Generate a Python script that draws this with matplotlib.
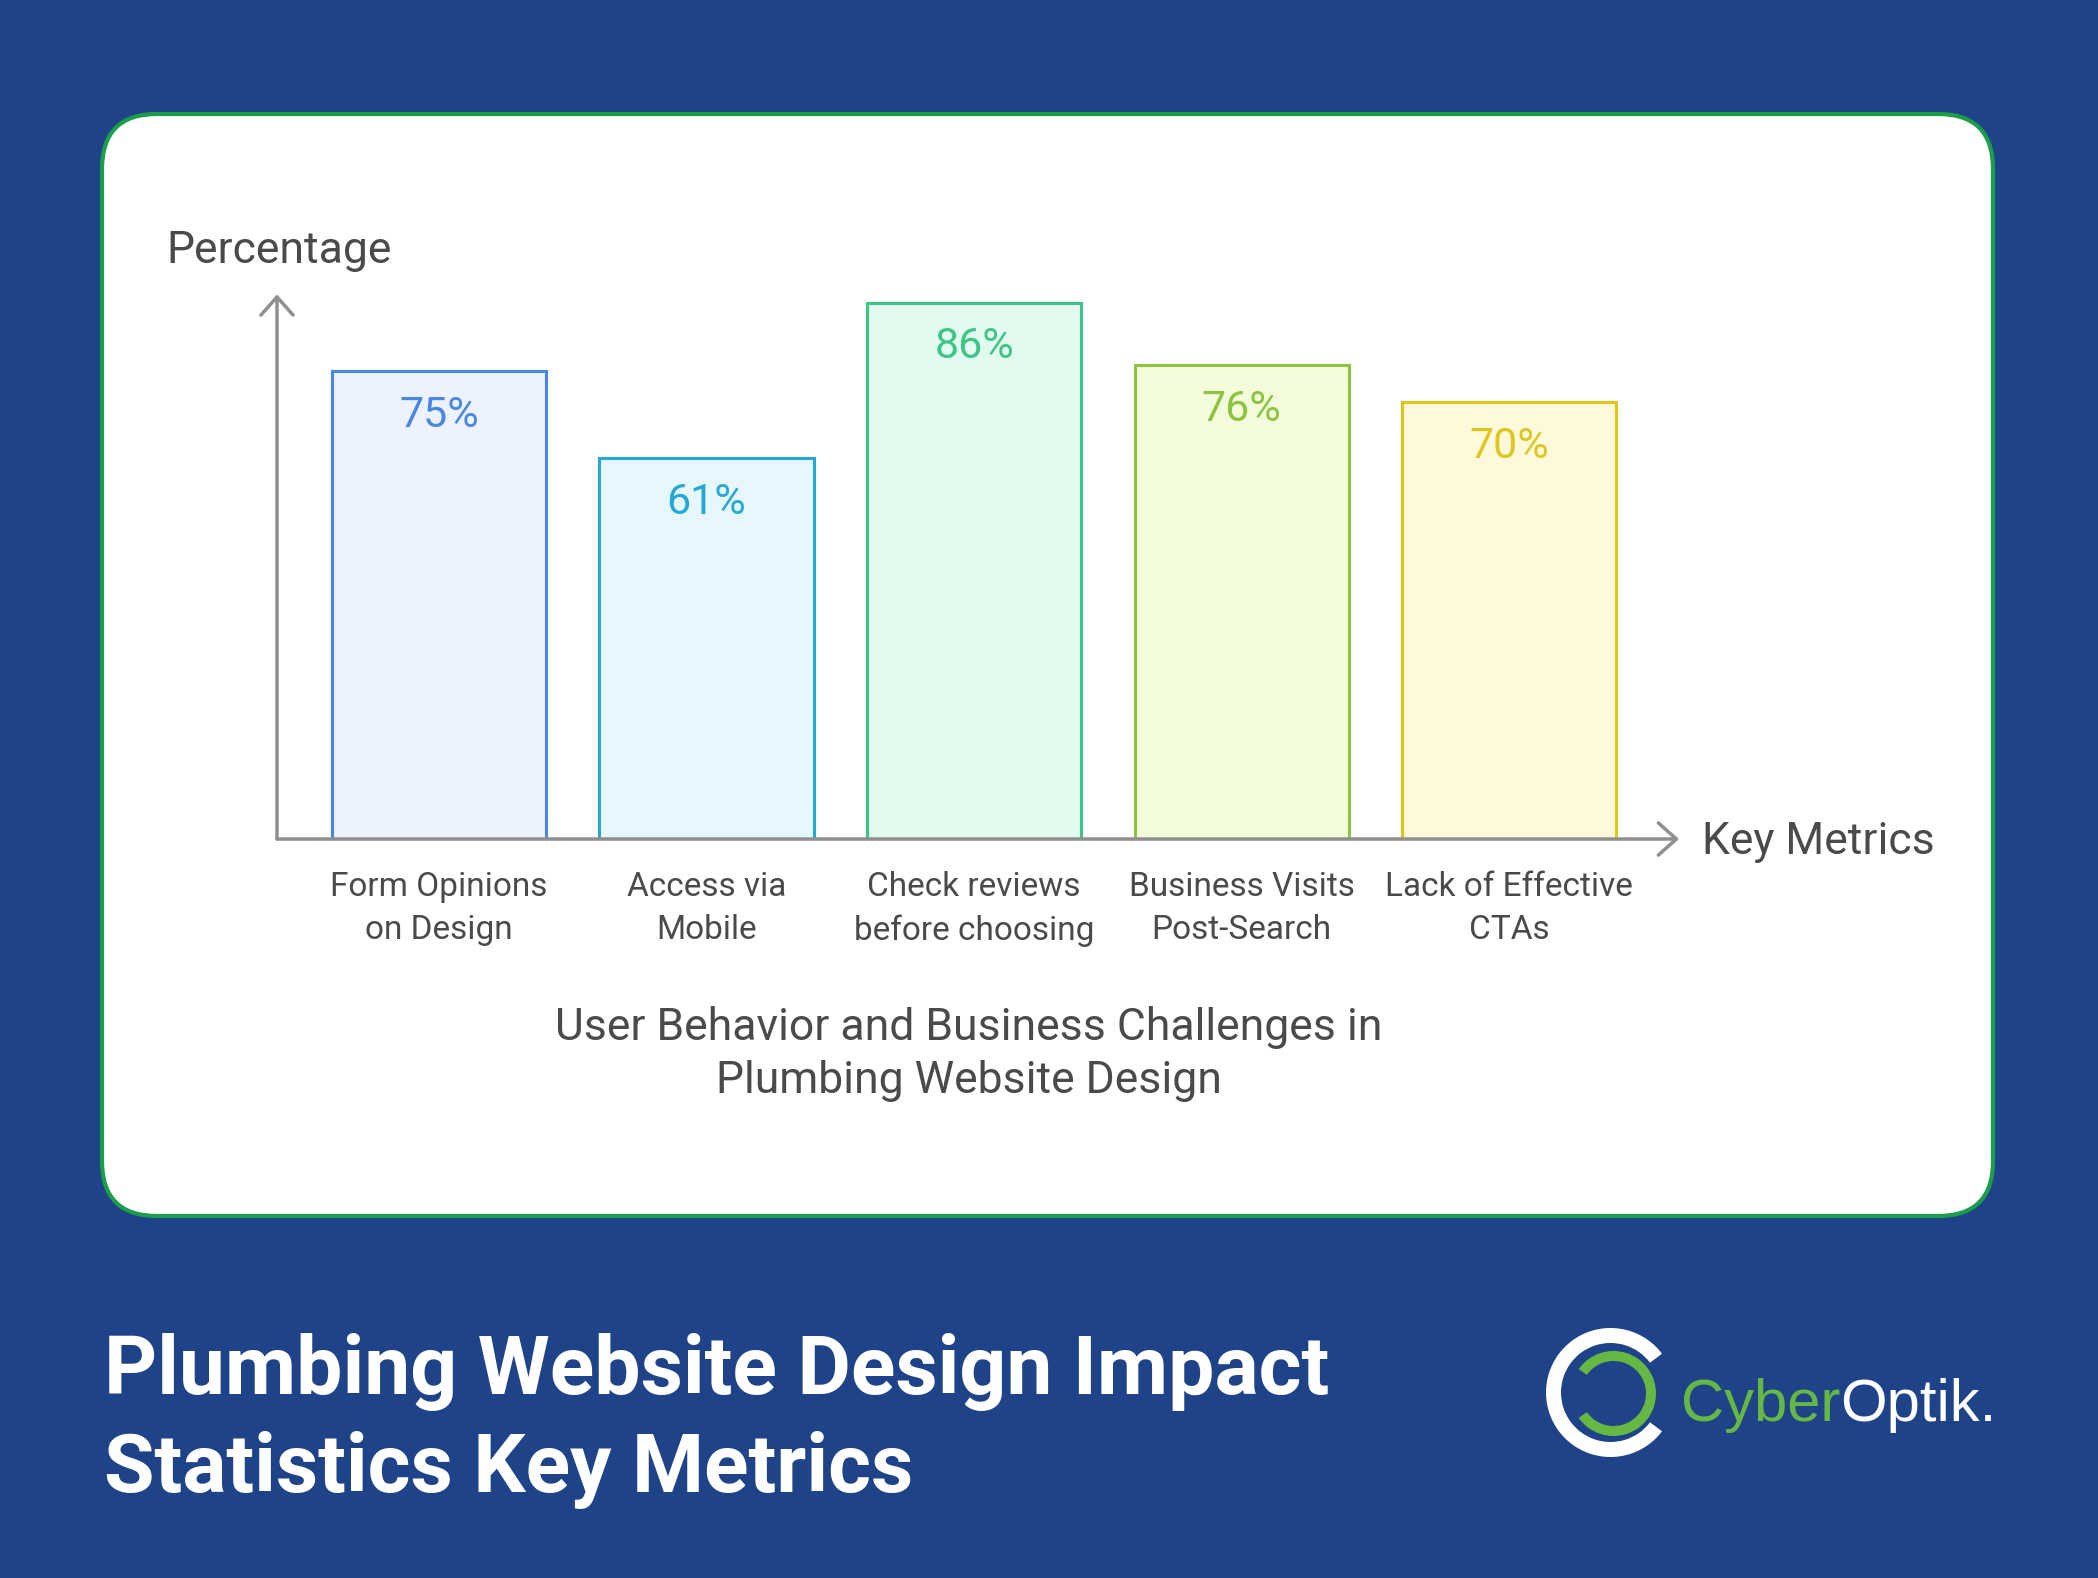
import matplotlib
matplotlib.use('Agg')
import matplotlib.pyplot as plt
from matplotlib.patches import FancyBboxPatch, Wedge
from matplotlib import font_manager
import numpy as np

# ---- data ----
categories = ["Form Opinions\non Design", "Access via\nMobile", "Check reviews\nbefore choosing",
              "Business Visits\nPost-Search", "Lack of Effective\nCTAs"]
values = [75, 61, 86, 76, 70]
value_labels = ["75%", "61%", "86%", "76%", "70%"]
edge_colors = ['#4A86E4', '#25A8D6', '#3DC587', '#8CC43F', '#DEC61F']
fill_colors = ['#EDF3FE', '#E6F8FE', '#E3FBEE', '#F3FDDC', '#FEF9DA']
y_label = "Percentage"
x_label = "Key Metrics"
subtitle_lines = ["User Behavior and Business Challenges in", "Plumbing Website Design"]
title_lines = ["Plumbing Website Design Impact", "Statistics Key Metrics"]

plt.rcParams['font.family'] = ['Roboto', 'DejaVu Sans']
TXT = '#4a4a4a'
AX = '#8F8F8F'

# logo font: narrow sans if available
logo_family, logo_size = 'Liberation Sans', 43
try:
    font_manager.findfont(font_manager.FontProperties(family='Liberation Sans Narrow'),
                          fallback_to_default=False)
    logo_family, logo_size = 'Liberation Sans Narrow', 50
except Exception:
    pass

W, H = 2098, 1578
fig = plt.figure(figsize=(W / 100, H / 100), dpi=100)
fig.patch.set_facecolor('#1F4388')

# background / decoration layer in pixel coordinates
bg = fig.add_axes([0, 0, 1, 1])
bg.set_xlim(0, W)
bg.set_ylim(H, 0)
bg.axis('off')

card = FancyBboxPatch((102, 114), 1891, 1102, boxstyle="round,pad=0,rounding_size=55",
                      facecolor='white', edgecolor='#1A9E4A', linewidth=3)
bg.add_patch(card)

# chart axes
x = np.arange(len(values))
xmin, xmax = -0.605, 4.634
ymax = 87.3
left_px, right_px = 277, 1679
base_px, top_px = 839, 294.4
ax = fig.add_axes([left_px / W, 1 - base_px / H, (right_px - left_px) / W, (base_px - top_px) / H])
ax.set_xlim(xmin, xmax)
ax.set_ylim(0, ymax)
ax.patch.set_alpha(0)
for s in ax.spines.values():
    s.set_visible(False)
ax.set_yticks([])
ax.set_xticks(x, categories, fontsize=24, color=TXT, linespacing=1.45)
ax.tick_params(axis='x', length=0, pad=23)

ax.bar(x, values, width=0.8, color=fill_colors, edgecolor=edge_colors, linewidth=2.2, zorder=2)
for xi, v, lab, c in zip(x, values, value_labels, edge_colors):
    ax.annotate(lab, (xi, v), xytext=(0, -40.3), textcoords='offset points',
                ha='center', va='baseline', fontsize=31, color=c, zorder=4)

arrowprops = dict(arrowstyle='->,head_length=0.65,head_width=0.58', lw=2.5, color=AX,
                  shrinkA=0, shrinkB=0, mutation_scale=20)
ax.annotate('', xy=(0, 1), xytext=(0, 0), xycoords='axes fraction', arrowprops=arrowprops, zorder=5)
ax.annotate('', xy=(1, 0), xytext=(0, 0), xycoords='axes fraction', arrowprops=arrowprops, zorder=5)

# axis titles
bg.text(166, 263, y_label, fontsize=32, color=TXT, va='baseline', ha='left')
bg.text(1702, 854, x_label, fontsize=32, color=TXT, va='baseline', ha='left')
bg.text(969, 1040, subtitle_lines[0], fontsize=32, color=TXT, va='baseline', ha='center')
bg.text(969, 1093, subtitle_lines[1], fontsize=32, color=TXT, va='baseline', ha='center')

# main title
bg.text(104, 1394, title_lines[0], fontsize=59.2, fontweight='bold', color='white', va='baseline', ha='left')
bg.text(104, 1492, title_lines[1], fontsize=59.2, fontweight='bold', color='white', va='baseline', ha='left')

# logo
bg.add_patch(Wedge((1610.5, 1392.5), 64.5, 37, 323, width=15, facecolor='white', edgecolor='none'))
bg.add_patch(Wedge((1613.5, 1393.5), 42.5, -145, 145, width=10, facecolor='#66B845', edgecolor='none'))
t1 = bg.text(1681, 1421, "Cyber", fontsize=logo_size, color='#66B845', va='baseline', ha='left',
             family=logo_family)
bg.annotate("Optik.", xy=(1, 0), xycoords=t1, va='bottom', ha='left', fontsize=logo_size,
            color='white', family=logo_family)

fig.savefig('out.png', dpi=100, facecolor=fig.get_facecolor())
